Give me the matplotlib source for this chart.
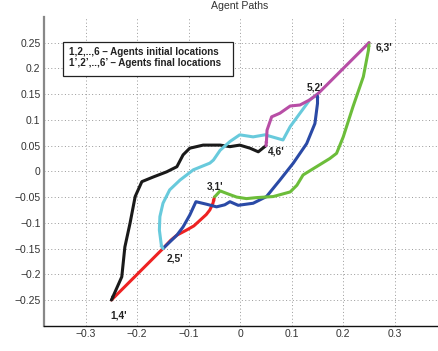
import numpy as np
import matplotlib
matplotlib.use('Agg')
import matplotlib.pyplot as plt
from matplotlib.patches import Rectangle

plt.rcParams['font.family'] = ['Liberation Sans', 'DejaVu Sans']

# agent paths (x, y), start -> end
red_x = [-0.250, -0.150, -0.135, -0.123, -0.104, -0.090, -0.078, -0.066, -0.059, -0.053, -0.050]
red_y = [-0.250, -0.150, -0.134, -0.124, -0.114, -0.106, -0.095, -0.084, -0.075, -0.062, -0.050]

blue_x = [-0.150, -0.123, -0.111, -0.098, -0.086, -0.065, -0.046, -0.030, -0.020, -0.004,
          0.025, 0.051, 0.077, 0.103, 0.129, 0.145, 0.150, 0.150]
blue_y = [-0.150, -0.124, -0.108, -0.085, -0.059, -0.064, -0.069, -0.065, -0.059, -0.066,
          -0.062, -0.049, -0.017, 0.016, 0.054, 0.093, 0.132, 0.150]

green_x = [-0.050, -0.039, -0.026, -0.007, 0.012, 0.032, 0.064, 0.097, 0.110, 0.122,
           0.148, 0.174, 0.187, 0.200, 0.219, 0.239, 0.249, 0.250]
green_y = [-0.050, -0.038, -0.043, -0.050, -0.053, -0.051, -0.049, -0.040, -0.027, -0.007,
           0.009, 0.025, 0.035, 0.067, 0.126, 0.184, 0.236, 0.250]

black_x = [0.050, 0.035, 0.019, -0.001, -0.020, -0.039, -0.072, -0.098, -0.111, -0.123,
           -0.143, -0.169, -0.191, -0.204, -0.214, -0.224, -0.230, -0.250]
black_y = [0.050, 0.038, 0.045, 0.051, 0.048, 0.051, 0.051, 0.045, 0.032, 0.009,
           -0.001, -0.011, -0.020, -0.049, -0.101, -0.147, -0.205, -0.250]

cyan_x = [0.150, 0.135, 0.116, 0.097, 0.083, 0.048, 0.025, -0.001, -0.020, -0.039,
          -0.052, -0.059, -0.091, -0.117, -0.137, -0.150, -0.156, -0.157, -0.153, -0.150]
cyan_y = [0.150, 0.139, 0.113, 0.087, 0.061, 0.071, 0.067, 0.071, 0.058, 0.041,
          0.022, 0.016, 0.003, -0.017, -0.036, -0.062, -0.088, -0.114, -0.145, -0.150]

mag_x = [0.250, 0.150, 0.135, 0.116, 0.097, 0.077, 0.061, 0.052, 0.051, 0.050]
mag_y = [0.250, 0.150, 0.139, 0.129, 0.127, 0.113, 0.106, 0.080, 0.060, 0.050]

paths = [(red_x, red_y, '#ee2222'), (blue_x, blue_y, '#2a4aa6'),
         (green_x, green_y, '#6cbd3a'), (black_x, black_y, '#1a1a1a'),
         (cyan_x, cyan_y, '#68cadc'), (mag_x, mag_y, '#b84ea6')]

point_labels = ["1,4'", "2,5'", "3,1'", "4,6'", "5,2'", "6,3'"]
label_x = [-0.253, -0.143, -0.064, 0.053, 0.129, 0.263]
label_y = [-0.280, -0.170, -0.030, 0.038, 0.163, 0.241]

fig = plt.figure(figsize=(4.38, 3.51), dpi=100)
ax = fig.add_axes([44/438, (351-325.7)/351, 393/438, 308.7/351])

for xs, ys, c in paths:
    ax.plot(xs, ys, color=c, lw=2.2, solid_capstyle='round',
            solid_joinstyle='round', zorder=3)
    ax.annotate('', xy=(xs[-1], ys[-1]), xytext=(xs[-2], ys[-2]),
                arrowprops=dict(arrowstyle='-|>', color=c, lw=0,
                                mutation_scale=7, shrinkA=0, shrinkB=0),
                zorder=4)

for t, lx, ly in zip(point_labels, label_x, label_y):
    ax.text(lx, ly, t, fontsize=7.3, fontweight='bold', color='#222222',
            ha='left', va='center', zorder=5)

ax.set_xlim(-0.381, 0.382)
ax.set_ylim(-0.3, 0.3)
ax.set_xticks([-0.3, -0.2, -0.1, 0, 0.1, 0.2, 0.3])
ax.set_xticklabels(['\u22120.3', '\u22120.2', '\u22120.1', '0', '0.1', '0.2', '0.3'])
yt = [-0.25, -0.2, -0.15, -0.1, -0.05, 0, 0.05, 0.1, 0.15, 0.2, 0.25]
ax.set_yticks(yt)
ax.set_yticklabels(['\u22120.25', '\u22120.2', '\u22120.15', '\u22120.1', '\u22120.05',
                    '0', '0.05', '0.1', '0.15', '0.2', '0.25'])
ax.tick_params(labelsize=7.5, colors='#333333', length=0, pad=2.5)
ax.grid(True, color='#999999', lw=0.7, linestyle=(0, (1, 2.5)))

ax.spines['top'].set_visible(False)
ax.spines['right'].set_visible(False)
ax.spines['left'].set_color('#888888')
ax.spines['left'].set_linewidth(1.6)
ax.spines['bottom'].set_color('#111111')
ax.spines['bottom'].set_linewidth(1.0)

# legend box
ax.add_patch(Rectangle((19/393, (325.7-76)/308.7), 170/393, 34/308.7,
                       transform=ax.transAxes, facecolor='white',
                       edgecolor='#222222', lw=0.9, zorder=6))
ax.text(25/393, (325.7-51.7)/308.7, "1,2,..,6 \u2013 Agents initial locations",
        transform=ax.transAxes, fontsize=7.1, fontweight='bold', color='#222222',
        va='center', ha='left', zorder=7)
ax.text(25/393, (325.7-62.7)/308.7, "1\u2019,2\u2019,..,6\u2019 \u2013 Agents final locations",
        transform=ax.transAxes, fontsize=7.1, fontweight='bold', color='#222222',
        va='center', ha='left', zorder=7)

fig.text(239.5/438, 1 - 6/351, 'Agent Paths', fontsize=7.6, color='#333333',
         ha='center', va='center')

fig.savefig('out.png', dpi=100)
